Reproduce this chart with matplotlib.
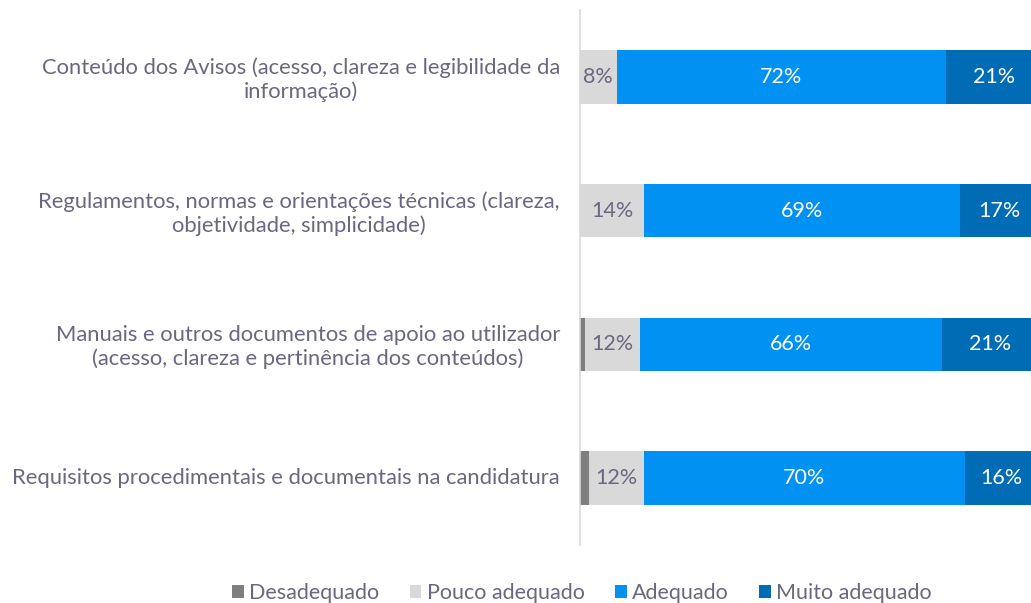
import matplotlib
matplotlib.use("Agg")
import matplotlib.pyplot as plt
from matplotlib.transforms import blended_transform_factory, ScaledTranslation
import numpy as np

categories = [
    "Conteúdo dos Avisos (acesso, clareza e legibilidade da\ninformação)",
    "Regulamentos, normas e orientações técnicas (clareza,\nobjetividade, simplicidade)",
    "Manuais e outros documentos de apoio ao utilizador\n(acesso, clareza e pertinência dos conteúdos)",
    "Requisitos procedimentais e documentais na candidatura",
]
series_names = ["Desadequado", "Pouco adequado", "Adequado", "Muito adequado"]
desadequado = [0, 0, 1, 2]
pouco = [8, 14, 12, 12]
adequado = [72, 69, 66, 70]
muito = [21, 17, 21, 16]

colors = ["#7f7f7f", "#d9d9d9", "#0091f3", "#006cb5"]
label_colors = [None, "#6a6880", "white", "white"]
text_color = "#6a6880"

plt.rcParams['font.family'] = ['Lato', 'DejaVu Sans']

fig = plt.figure(figsize=(10.31, 6.03), dpi=100)
ax = fig.add_axes([580/1031, 58/603, 1 - 580/1031, 535/603])

y = np.arange(len(categories))
left = np.zeros(len(categories))
data = [desadequado, pouco, adequado, muito]
handles = []
for vals, name, col, lc in zip(data, series_names, colors, label_colors):
    vals = np.array(vals, dtype=float)
    bars = ax.barh(y, vals, left=left, height=0.4, color=col, label=name, edgecolor='none')
    handles.append(bars)
    if lc is not None:
        for yi, (l, v) in enumerate(zip(left, vals)):
            if v > 0:
                ax.text(l + v / 2, yi, f"{int(v)}%", ha='center', va='center',
                        color=lc, fontsize=15.5)
    left += vals

ax.set_xlim(0, 98.5)
ax.set_ylim(3.5, -0.5)
ax.set_yticks([])
ax.set_xticks([])
for s in ['top', 'right', 'bottom']:
    ax.spines[s].set_visible(False)
ax.spines['left'].set_color('#d9d9d9')
ax.spines['left'].set_linewidth(1.2)

tr = blended_transform_factory(fig.transFigure, ax.transData)
for yi, cat in enumerate(categories):
    t = tr
    if "\n" in cat:
        t = tr + ScaledTranslation(0, -3 / 100, fig.dpi_scale_trans)
    ax.text(560/1031, yi, cat, transform=t, ha='right', va='center',
            multialignment='center', fontsize=15.8, color=text_color, linespacing=1.22)

leg = fig.legend(handles=handles, labels=series_names, loc='center', ncol=4,
                 bbox_to_anchor=(582/1031, 1 - 593/603), frameon=False, fontsize=15.5,
                 handlelength=0.55, handleheight=0.55, handletextpad=0.25, columnspacing=1.4)
for t in leg.get_texts():
    t.set_color(text_color)

fig.savefig("out.png", dpi=100)
